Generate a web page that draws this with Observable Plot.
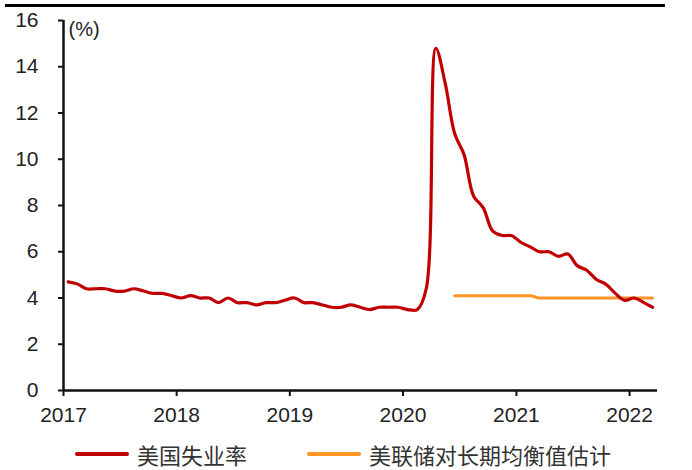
<!DOCTYPE html>
<html>
<head>
<meta charset="utf-8">
<script src="https://cdn.jsdelivr.net/npm/d3@7"></script>
<script src="https://cdn.jsdelivr.net/npm/@observablehq/plot@0.6"></script>
<style>
  html, body { margin: 0; padding: 0; background: #fff; }
  #wrap { position: relative; width: 692px; height: 470px; font-family: "Liberation Sans", Arial, "Noto Sans CJK SC", sans-serif; }
  #topRule { position: absolute; left: 5px; top: 4px; width: 660px; height: 3px; background: #000; }
  #chart { position: absolute; left: 0; top: 0; }
  .legend { position: absolute; top: 440px; height: 28px; display: flex; align-items: center; font-family: "Noto Sans CJK SC", "Liberation Sans", sans-serif; font-size: 22px; color: #333; }
  .legend .sw { display: inline-block; width: 54px; height: 4px; border-radius: 2px; margin-right: 8px; }
</style>
</head>
<body>
<div id="wrap">
  <div id="topRule"></div>
  <div id="chart"></div>
  <div class="legend" style="left:75px"><span class="sw" style="background:#c00000"></span><span id="lg1"></span></div>
  <div class="legend" style="left:307px"><span class="sw" style="background:#ff9326"></span><span id="lg2"></span></div>
</div>
<script>
// US unemployment rate, monthly, Jan 2017 – Mar 2022 (%)
const unemploymentStart = [2017, 0];
const unemploymentRate = [
  4.7, 4.6, 4.4, 4.4, 4.4, 4.3, 4.3, 4.4, 4.3, 4.2, 4.2, 4.1,   // 2017
  4.0, 4.1, 4.0, 4.0, 3.8, 4.0, 3.8, 3.8, 3.7, 3.8, 3.8, 3.9,   // 2018
  4.0, 3.8, 3.8, 3.7, 3.6, 3.6, 3.7, 3.6, 3.5, 3.6, 3.6, 3.6,   // 2019
  3.5, 3.5, 4.4, 14.8, 13.3, 11.1, 10.2, 8.4, 7.9, 6.9, 6.7, 6.7, // 2020
  6.4, 6.2, 6.0, 6.0, 5.8, 5.9, 5.4, 5.2, 4.8, 4.6, 4.2, 3.9,   // 2021
  4.0, 3.8, 3.6                                                // 2022
];

// FOMC median longer-run unemployment estimate, monthly, Jun 2020 – Mar 2022 (%)
const fedStart = [2020, 5];
const fedEstimate = [
  4.1, 4.1, 4.1, 4.1, 4.1, 4.1, 4.1, 4.1, 4.1,
  4.0, 4.0, 4.0, 4.0, 4.0, 4.0, 4.0, 4.0, 4.0, 4.0, 4.0, 4.0, 4.0
];

const seriesNames = ["美国失业率", "美联储对长期均衡值估计"];
const yTicks = [0, 2, 4, 6, 8, 10, 12, 14, 16];
const xTickYears = [2017, 2018, 2019, 2020, 2021, 2022];
const unitLabel = "(%)";

// each monthly value sits in the middle of its month
const monthly = ([y, m], values) =>
  values.map((v, i) => ({date: new Date(Date.UTC(y, m + i, 16)), value: v}));

const rateData = monthly(unemploymentStart, unemploymentRate);
const fedData = monthly(fedStart, fedEstimate);

const xStart = new Date(Date.UTC(2017, 0, 1));
const xEnd = new Date(Date.UTC(2022, 3, 1));
const font = "Liberation Sans, Arial, sans-serif";

const chart = Plot.plot({
  width: 692,
  height: 425,
  marginLeft: 63,
  marginRight: 35,
  marginTop: 20,
  marginBottom: 35,
  style: {fontFamily: font, fontSize: "21px", color: "#222", background: "transparent"},
  x: {type: "utc", domain: [xStart, xEnd]},
  y: {domain: [0, 16]},
  marks: [
    Plot.axisY(yTicks, {tickSize: 5, tickPadding: 20, strokeWidth: 2, stroke: "#111", fill: "#222", fontSize: 21, label: null}),
    Plot.axisX(xTickYears.map(y => new Date(Date.UTC(y, 0, 1))), {
      tickSize: 6, tickPadding: 11, strokeWidth: 2, stroke: "#111", fill: "#222", fontSize: 21,
      tickFormat: d => String(d.getUTCFullYear()), label: null
    }),
    Plot.ruleX([xStart], {stroke: "#111", strokeWidth: 2.5}),
    Plot.ruleY([0], {stroke: "#111", strokeWidth: 2.5}),
    Plot.lineY(fedData, {x: "date", y: "value", stroke: "#ff9326", strokeWidth: 3, curve: "monotone-x"}),
    Plot.lineY(rateData, {x: "date", y: "value", stroke: "#c00000", strokeWidth: 3.2, curve: "catmull-rom"}),
    Plot.text([unitLabel], {frameAnchor: "top-left", dx: 5, dy: 1, lineAnchor: "top", textAnchor: "start", fontSize: 20, fill: "#222"})
  ]
});

document.getElementById("chart").appendChild(chart);
document.getElementById("lg1").textContent = seriesNames[0];
document.getElementById("lg2").textContent = seriesNames[1];
</script>
</body>
</html>
